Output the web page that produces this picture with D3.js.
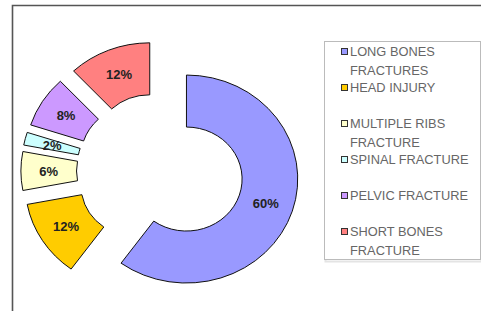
<!DOCTYPE html>
<html>
<head>
<meta charset="utf-8">
<script src="https://cdn.jsdelivr.net/npm/d3@7"></script>
<style>
  body { margin: 0; background: #fff; }
  svg { display: block; }
</style>
</head>
<body>
<svg id="chart" width="481" height="311"></svg>
<script>
// injury types, in the order of the slices (clockwise from 12 o'clock)
const categories = [
  'LONG BONES FRACTURES',
  'HEAD INJURY',
  'MULTIPLE RIBS FRACTURE',
  'SPINAL FRACTURE',
  'PELVIC FRACTURE',
  'SHORT BONES FRACTURE'
];
const values = [60, 12, 6, 2, 8, 12];
const legendLines = [
  ['LONG BONES', 'FRACTURES'],
  ['HEAD INJURY'],
  ['MULTIPLE RIBS', 'FRACTURE'],
  ['SPINAL FRACTURE'],
  ['PELVIC FRACTURE'],
  ['SHORT BONES', 'FRACTURE']
];
const colors = ['#9999ff', '#ffcc00', '#ffffcc', '#ccffff', '#cc99ff', '#ff8080'];

const svg = d3.select('#chart');

// outer frame (only top and left edges show)
svg.append('path')
  .attr('d', 'M12.5,311 L12.5,5.5 L481,5.5')
  .attr('fill', 'none')
  .attr('stroke', '#555')
  .attr('stroke-width', 1.6);

const cx = 160;
const cy = 171;
const sx = 1.07; // picture is slightly wider than tall
const explode = 26;

const pie = d3.pie().sort(null).value(d => d);
const arc = d3.arc().innerRadius(52).outerRadius(104);

const slices = pie(values);

const offset = d => {
  const a = (d.startAngle + d.endAngle) / 2;
  return [Math.sin(a) * explode, -Math.cos(a) * explode];
};

const donut = svg.append('g')
  .attr('transform', `translate(${cx},${cy}) scale(${sx},1)`);

donut.selectAll('path.slice')
  .data(slices)
  .enter()
  .append('path')
  .classed('slice', true)
  .attr('transform', d => `translate(${offset(d)})`)
  .attr('d', arc)
  .attr('fill', (d, i) => colors[i])
  .attr('stroke', '#111')
  .attr('stroke-width', 1)
  .attr('vector-effect', 'non-scaling-stroke');

svg.selectAll('text.pct')
  .data(slices)
  .enter()
  .append('text')
  .classed('pct', true)
  .attr('x', d => cx + sx * (offset(d)[0] + arc.centroid(d)[0]))
  .attr('y', d => cy + offset(d)[1] + arc.centroid(d)[1])
  .attr('dy', '0.35em')
  .attr('text-anchor', 'middle')
  .style('font-family', 'Liberation Sans, Arial, sans-serif')
  .style('font-size', '13px')
  .style('font-weight', 'bold')
  .attr('fill', '#222')
  .text(d => d.value + '%');

// legend
const legendBox = svg.append('g');
legendBox.append('rect')
  .attr('x', 325.5)
  .attr('y', 42.5)
  .attr('width', 156)
  .attr('height', 219)
  .attr('fill', 'none')
  .attr('stroke', '#e4e4e4')
  .attr('stroke-width', 2);
legendBox.append('rect')
  .attr('x', 324.5)
  .attr('y', 41.5)
  .attr('width', 156)
  .attr('height', 218)
  .attr('fill', '#fff')
  .attr('stroke', '#bbb')
  .attr('stroke-width', 1);

const itemY = d3.scaleLinear().domain([0, 1]).range([56, 92]);

const items = legendBox.selectAll('g.item')
  .data(categories)
  .enter()
  .append('g')
  .classed('item', true)
  .attr('transform', (d, i) => `translate(341,${itemY(i)})`);

items.append('rect')
  .attr('x', 0.5)
  .attr('y', -7.5)
  .attr('width', 6)
  .attr('height', 6)
  .attr('fill', (d, i) => colors[i])
  .attr('stroke', '#333')
  .attr('stroke-width', 1);

items.append('text')
  .attr('transform', `translate(9,0) scale(${sx},1)`)
  .style('font-family', 'Liberation Sans, Arial, sans-serif')
  .style('font-size', '12px')
  .attr('fill', '#666')
  .selectAll('tspan')
  .data((d, i) => legendLines[i])
  .enter()
  .append('tspan')
  .attr('x', 0)
  .attr('y', (d, j) => j * 19.5)
  .text(d => d);
</script>
</body>
</html>
